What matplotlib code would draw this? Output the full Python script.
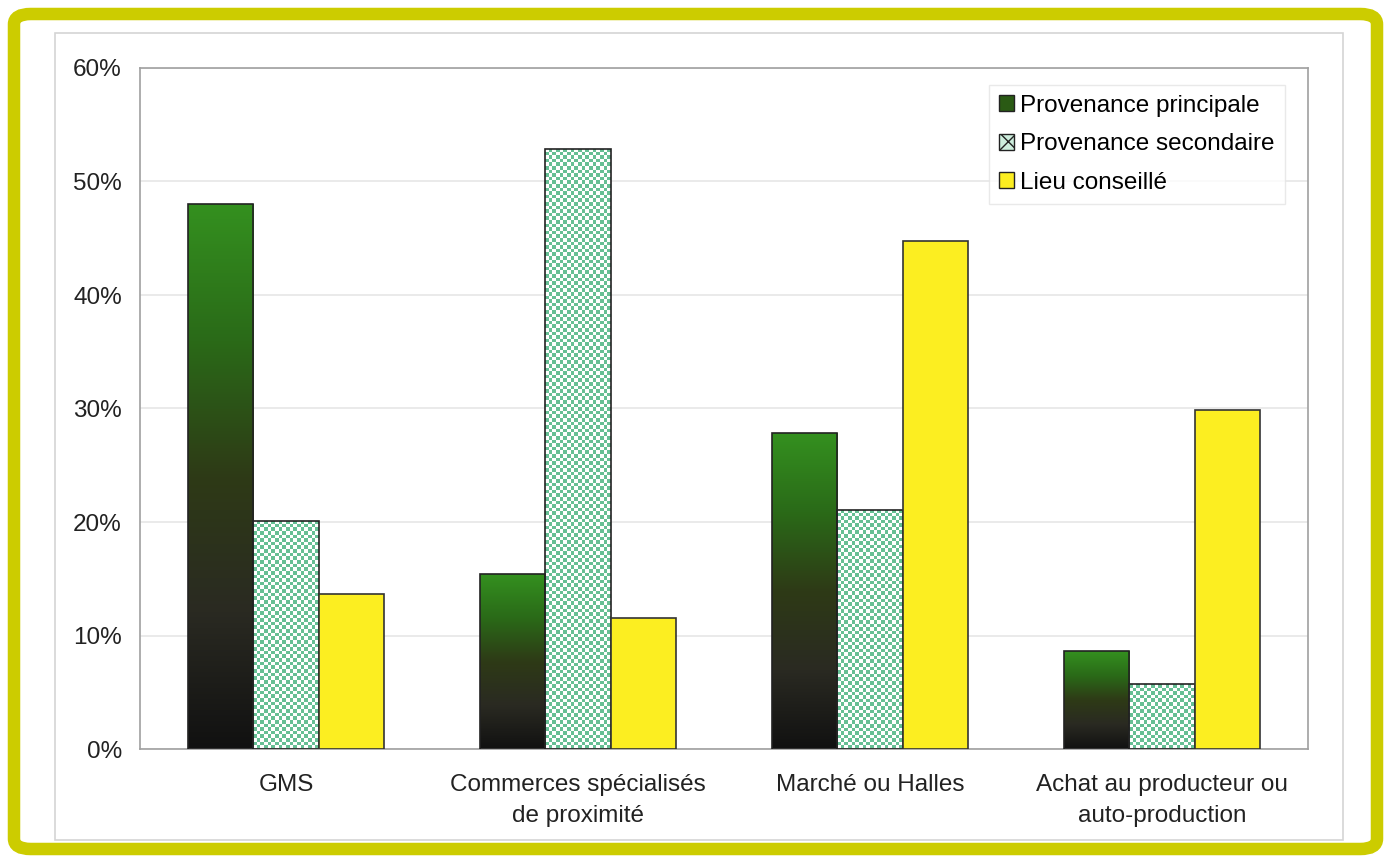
import numpy as np
import matplotlib
matplotlib.use("Agg")
import matplotlib.pyplot as plt
from matplotlib.colors import LinearSegmentedColormap, ListedColormap
from matplotlib.patches import FancyBboxPatch, Rectangle

plt.rcParams['font.family'] = ['Liberation Sans', 'DejaVu Sans']

categories = ["GMS", "Commerces spécialisés\nde proximité", "Marché ou Halles",
              "Achat au producteur ou\nauto-production"]
principale = [48.0, 15.4, 27.8, 8.6]
secondaire = [20.1, 52.9, 21.1, 5.7]
conseille = [13.7, 11.5, 44.8, 29.9]
series_names = ["Provenance principale", "Provenance secondaire", "Lieu conseillé"]
yticks = [0, 10, 20, 30, 40, 50, 60]

W, H = 1391, 863
fig = plt.figure(figsize=(W / 100, H / 100), dpi=100)
fig.patch.set_facecolor("white")

# yellow hand-drawn frame and light grey chart area
fig.patches.append(FancyBboxPatch((14 / W, 14 / H), 1 - 28 / W, 1 - 28 / H,
                                  boxstyle="round,pad=0,rounding_size=0.012",
                                  transform=fig.transFigure, fill=False,
                                  edgecolor="#cccc00", linewidth=9, zorder=10))
fig.patches.append(Rectangle((55 / W, 23 / H), 1288 / W, 807 / H,
                             transform=fig.transFigure, fill=False,
                             edgecolor="#d4d4d4", linewidth=1.2))

ax = fig.add_axes([140 / W, 114 / H, 1168 / W, 681 / H])
ax.set_xlim(-0.5, 3.5)
ax.set_ylim(0, 60)
for s in ax.spines.values():
    s.set_color("#a0a0a0")
    s.set_linewidth(1.2)
ax.set_yticks(yticks)
ax.set_yticklabels([f"{v}%" for v in yticks], fontsize=17.5, color="#222222")
ax.tick_params(axis="y", length=0, pad=13)
ax.tick_params(axis="x", length=0, pad=18)
ax.set_xticks(range(len(categories)))
ax.set_xticklabels(categories, fontsize=17.5, color="#222222", linespacing=1.55)
ax.grid(axis="y", color="#e6e6e6", linewidth=1.2)
ax.set_axisbelow(True)

x = np.arange(len(categories))
bw = 0.224
grad_cmap = LinearSegmentedColormap.from_list(
    "g", ["#111111", "#2a2a22", "#2e3a16", "#2a6a18", "#34901f"])
check_cmap = ListedColormap(["#ffffff", "#66bf94"])
px_per_unit = 681 / 60.0

b1 = ax.bar(x - bw, principale, bw, color="none", edgecolor="#222222", linewidth=1.2, zorder=3)
b2 = ax.bar(x, secondaire, bw, color="none", edgecolor="#222222", linewidth=1.2, zorder=3)
b3 = ax.bar(x + bw, conseille, bw, color="#fcee21", edgecolor="#333333", linewidth=1.2, zorder=3)

grad = np.linspace(0, 1, 256).reshape(-1, 1)
for r in b1:
    x0, w, h = r.get_x(), r.get_width(), r.get_height()
    im = ax.imshow(grad, cmap=grad_cmap, origin="lower", aspect="auto",
                   extent=(x0, x0 + w, 0, h), zorder=2)
    im.set_clip_path(r)

for r in b2:
    x0, w, h = r.get_x(), r.get_width(), r.get_height()
    nx = int(round(w * 292 / 3.6))
    ny = max(1, int(round(h * px_per_unit / 3.6)))
    chk = (np.add.outer(np.arange(ny), np.arange(nx)) % 2).astype(float)
    im = ax.imshow(chk, cmap=check_cmap, origin="lower", aspect="auto",
                   interpolation="nearest", extent=(x0, x0 + w, 0, h), zorder=2)
    im.set_clip_path(r)

ax.set_xlim(-0.5, 3.5)
ax.set_ylim(0, 60)

# legend
h1 = Rectangle((0, 0), 1, 1, facecolor="#2a5a14", edgecolor="#222222")
h2 = Rectangle((0, 0), 1, 1, facecolor="#cdeedd", edgecolor="#222222", hatch="xx")
h3 = Rectangle((0, 0), 1, 1, facecolor="#fcee21", edgecolor="#222222")
leg = ax.legend([h1, h2, h3], series_names, loc="upper right",
                bbox_to_anchor=(0.98, 0.975),
                fontsize=17.5, frameon=True, fancybox=False, handlelength=0.65,
                handleheight=0.65, handletextpad=0.25, labelspacing=0.68,
                borderpad=0.4, borderaxespad=0)
leg.get_frame().set_edgecolor("#e4e4e4")
leg.get_frame().set_linewidth(1.0)

fig.savefig("out.png", dpi=100, facecolor="white")
